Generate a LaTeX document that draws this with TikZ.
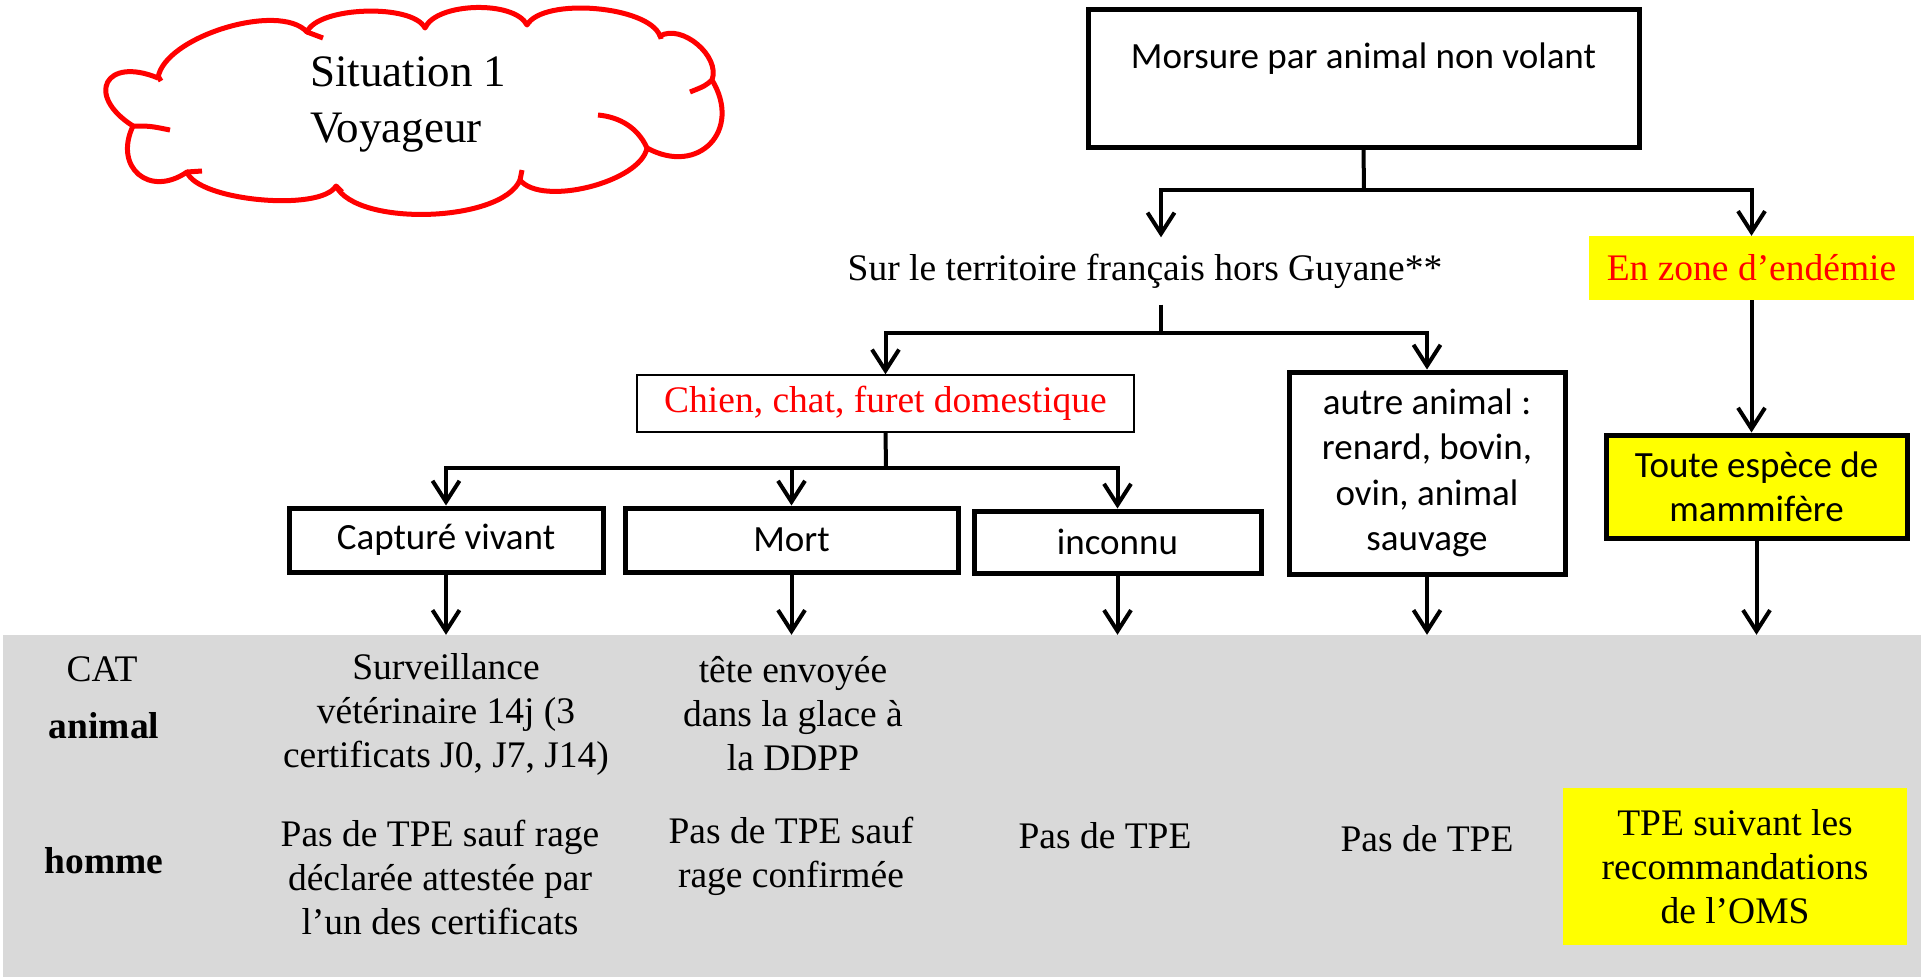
\documentclass[tikz,border=0pt]{standalone}
\usepackage{fontspec}
\setmainfont{Liberation Serif}
\newfontfamily\calib{Carlito}
\usetikzlibrary{arrows.meta}
\definecolor{grayzone}{HTML}{D9D9D9}
\definecolor{yel}{HTML}{FFFF00}
\definecolor{rd}{HTML}{FF0000}
\tikzset{
  cbox/.style={draw, line width=5pt, rectangle, inner sep=0pt, align=center,
    font=\calib\fontsize{37}{44}\selectfont},
  ttxt/.style={inner sep=0pt, align=center, font=\fontsize{37.5}{44}\selectfont},
  conn/.style={line width=4pt},
  arr/.style={line width=4pt, -{Straight Barb[length=21pt,width=27pt]}},
  cloudline/.style={draw=rd, line width=5pt, line join=round, line cap=butt},
}
\begin{document}
\begin{tikzpicture}[x=1pt,y=-1pt]
\useasboundingbox (0,0) rectangle (1921,977);
% gray zone
\node[fill=grayzone, minimum width=1918pt, minimum height=342pt, inner sep=0pt] (gray) at (962,806) {};
% cloud
\draw[cloudline] (158,78) to[bend left=65,looseness=0.68] (307,32)
  to[bend left=65,looseness=0.6] (425,28)
  to[bend left=65,looseness=0.7] (527,25)
  to[bend left=65,looseness=0.62] (660,36)
  to[bend left=70,looseness=0.95] (712,80)
  to[bend left=75,looseness=1.6] (647,148)
  to[bend left=65,looseness=0.68] (520,180)
  to[bend left=65,looseness=0.64] (336,186)
  to[bend left=65,looseness=0.52] (187,172)
  to[bend left=75,looseness=1.65] (133,126)
  to[bend left=85,looseness=2.7] (158,78);
\draw[cloudline] (647,148) .. controls (638,128) and (620,117) .. (598,115);
\draw[cloudline] (712,80) .. controls (705,86) .. (690,92);
\draw[cloudline] (133,126) .. controls (150,126) .. (170,130);
\draw[cloudline] (187,172) -- (202,171);
\draw[cloudline] (307,32) -- (323,38);
\draw[cloudline] (660,34) -- (661,39);
\draw[cloudline] (520,180) -- (522,170);
\draw[cloudline] (336,186) -- (342,192);
\draw[cloudline] (158,76) -- (161,81);
\node[inner sep=0pt, align=left, anchor=west, font=\fontsize{45}{56}\selectfont] (sit) at (310,104) {Situation 1\\Voyageur};
% top box
\node[cbox, minimum width=551pt, minimum height=138pt] (morsure) at (1363.5,78) {Morsure par animal non volant\\~};
\coordinate (j1) at (1364,190);
\node[ttxt, minimum height=67pt] (sur) at (1145,271) {Sur le territoire français hors Guyane**};
\node[ttxt, fill=yel, text=rd, minimum width=325pt, minimum height=64pt] (endemie) at (1751.5,268) {En zone d’endémie};
\node[cbox, fill=yel, minimum width=301pt, minimum height=103pt] (toute) at (1756.5,486.5) {Toute espèce de\\mammifère};
\node[ttxt, draw, line width=1.5pt, text=rd, minimum width=497pt, minimum height=57pt] (chien) at (885.5,403.5) {Chien, chat, furet domestique};
\node[cbox, minimum width=276pt, minimum height=202pt, font=\calib\fontsize{37}{45.5}\selectfont] (autre) at (1427,473) {autre animal :\\renard, bovin,\\ovin, animal\\sauvage};
\node[cbox, minimum width=314pt, minimum height=64pt] (capt) at (446,540) {Capturé vivant};
\node[cbox, minimum width=333pt, minimum height=64pt] (mort) at (791.5,540) {Mort};
\node[cbox, minimum width=287pt, minimum height=62pt] (inconnu) at (1117.5,542) {inconnu};
\coordinate (j2) at (1161,333);
\coordinate (j3) at (886,468);
% connectors
\draw[conn] (morsure.south) -- (j1);
\draw[arr] (j1) -| ([xshift=16pt]sur.north);
\draw[arr] (j1) -| (endemie.north);
\draw[arr] (endemie.south) -- (endemie.south |- toute.north);
\draw[conn] ([xshift=16pt]sur.south) -- (j2);
\draw[arr] (j2) -| (chien.north);
\draw[arr] (j2) -| (autre.north);
\draw[conn] (chien.south) -- (j3);
\draw[arr] (j3) -| (capt.north);
\draw[arr] (j3) -| (mort.north);
\draw[arr] (j3) -| (inconnu.north);
\draw[arr] (capt.south) -- (capt.south |- gray.north);
\draw[arr] (mort.south) -- (mort.south |- gray.north);
\draw[arr] (inconnu.south) -- (inconnu.south |- gray.north);
\draw[arr] (autre.south) -- (autre.south |- gray.north);
\draw[arr] (toute.south) -- (toute.south |- gray.north);
% gray zone texts
\node[ttxt] (cat) at (102,669) {CAT};
\node[ttxt, font=\bfseries\fontsize{37.5}{44}\selectfont] (animal) at (104,726) {animal};
\node[ttxt, font=\bfseries\fontsize{37.5}{44}\selectfont] (homme) at (104,861) {homme};
\node[ttxt] (surv) at (446,714) {Surveillance\\vétérinaire 14j (3\\certificats J0, J7, J14)};
\node[ttxt] (tete) at (793,714) {tête envoyée\\dans la glace à\\la DDPP};
\node[ttxt] (pas1) at (440,877) {Pas de TPE sauf rage\\déclarée attestée par\\l’un des certificats};
\node[ttxt] (pas2) at (791,856) {Pas de TPE sauf\\rage confirmée};
\node[ttxt] (pas3) at (1105,836) {Pas de TPE};
\node[ttxt] (pas4) at (1427,839) {Pas de TPE};
\node[ttxt, fill=yel, minimum width=344pt, minimum height=157pt] (oms) at (1735,866.5) {TPE suivant les\\recommandations\\de l’OMS};
\end{tikzpicture}
\end{document}
